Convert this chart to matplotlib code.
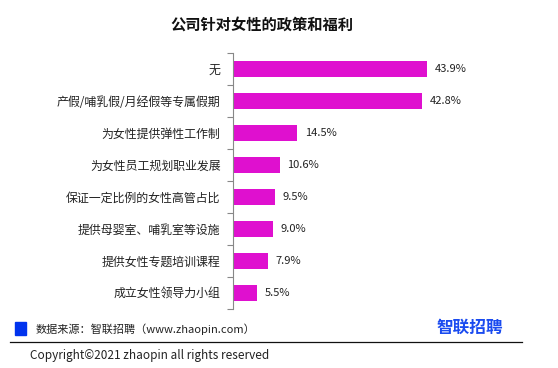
import matplotlib.pyplot as plt
import numpy as np

plt.rcParams['font.family'] = ['Noto Sans CJK SC', 'DejaVu Sans']

categories = ['无', '产假/哺乳假/月经假等专属假期', '为女性提供弹性工作制', '为女性员工规划职业发展',
              '保证一定比例的女性高管占比', '提供母婴室、哺乳室等设施', '提供女性专题培训课程', '成立女性领导力小组']
values = [43.9, 42.8, 14.5, 10.6, 9.5, 9.0, 7.9, 5.5]

W, H = 558, 368
fig = plt.figure(figsize=(W / 100, H / 100), dpi=100)
ax = fig.add_axes([233 / W, 1 - 309 / H, 221 / W, 256 / H])

y = np.arange(len(categories))
ax.barh(y, values, height=0.5, color='#DF10CF')
for yi, v in zip(y, values):
    ax.text(v + 1.7, yi, f'{v:.1f}%', va='center', ha='left', fontsize=8, color='#222222')

ax.set_xlim(0, 50)
ax.set_ylim(len(categories) - 0.5, -0.5)
ax.set_yticks(y)
ax.set_yticklabels(categories, fontsize=8.6, color='#222222')
ax.set_yticks(np.arange(-0.5, len(categories)), minor=True)
ax.tick_params(axis='y', which='major', length=0, pad=9)
ax.tick_params(axis='y', which='minor', length=4, color='#888888', width=0.8)
ax.set_xticks([])
for s in ['top', 'right', 'bottom']:
    ax.spines[s].set_visible(False)
ax.spines['left'].set_color('#888888')
ax.spines['left'].set_linewidth(0.8)

fig.text(262 / W, 1 - 25 / H, '公司针对女性的政策和福利', ha='center', va='center',
         fontsize=11, fontweight='bold', color='#111111')

fig.patches.append(plt.Rectangle((15 / W, 1 - 335 / H), 11 / W, 13 / H, transform=fig.transFigure,
                                 color='#0033EE', figure=fig))
fig.text(36 / W, 1 - 329 / H, '数据来源：智联招聘（www.zhaopin.com）', ha='left', va='center',
         fontsize=8, color='#222222')
fig.text(503 / W, 1 - 328 / H, '智联招聘', ha='right', va='center', fontsize=12,
         fontweight='bold', color='#1A4BF0')
fig.add_artist(plt.Line2D([10 / W, 522 / W], [1 - 342 / H, 1 - 342 / H], transform=fig.transFigure,
                          color='#111111', linewidth=0.9))
fig.text(30 / W, 1 - 355 / H, 'Copyright©2021 zhaopin all rights reserved', ha='left', va='center',
         fontsize=8.5, color='#222222')

fig.savefig('out.png', dpi=100)
